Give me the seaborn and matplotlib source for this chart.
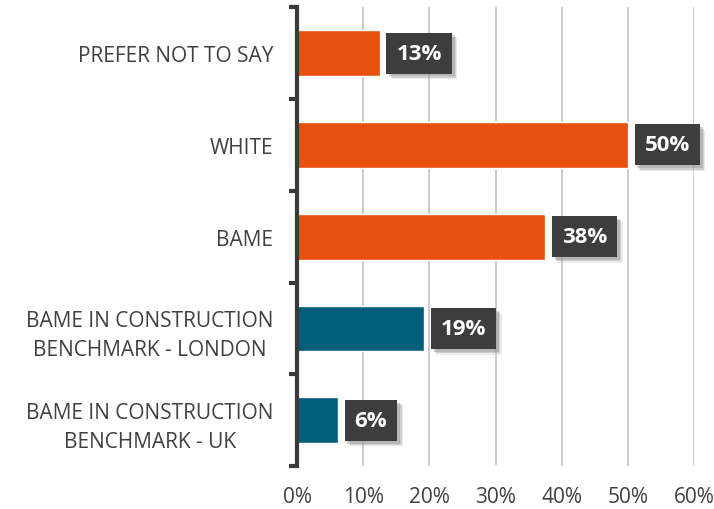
import matplotlib
matplotlib.use("Agg")
import matplotlib.pyplot as plt
import seaborn as sns
import pandas as pd
from matplotlib.ticker import FixedLocator, PercentFormatter
import matplotlib.patheffects as pe

# data
categories = [
    "PREFER NOT TO SAY",
    "WHITE",
    "BAME",
    "BAME IN CONSTRUCTION\nBENCHMARK - LONDON",
    "BAME IN CONSTRUCTION\nBENCHMARK - UK",
]
values = [0.125, 0.50, 0.375, 0.192, 0.062]
labels = ["13%", "50%", "38%", "19%", "6%"]
groups = ["survey", "survey", "survey", "benchmark", "benchmark"]

df = pd.DataFrame({"category": categories, "value": values, "group": groups})

sns.set_theme(style="white")
plt.rcParams["font.family"] = ["Open Sans", "DejaVu Sans"]

fig = plt.figure(figsize=(7.14, 5.1), dpi=100)
ax = fig.add_axes([0.416, 0.084, 0.556, 0.9])

sns.barplot(
    data=df,
    y="category",
    x="value",
    hue="group",
    palette={"survey": "#E8500E", "benchmark": "#005F7A"},
    width=0.5,
    dodge=False,
    legend=False,
    saturation=1,
    ax=ax,
)

ax.set_xlim(0, 0.6)
ax.set_ylim(len(categories) - 0.5, -0.5)
ax.xaxis.set_major_formatter(PercentFormatter(1.0, decimals=0))
ax.set_xticks([0, 0.1, 0.2, 0.3, 0.4, 0.5, 0.6])
ax.grid(axis="x", color="#c8c8c8", linewidth=1.3)
ax.set_axisbelow(True)

for side in ["top", "right", "bottom"]:
    ax.spines[side].set_visible(False)
ax.spines["left"].set_color("#3a3a3a")
ax.spines["left"].set_linewidth(3)

# ticks at the category boundaries only
ax.yaxis.set_minor_locator(FixedLocator([i - 0.5 for i in range(len(categories) + 1)]))
ax.tick_params(axis="y", which="minor", left=True, length=6, width=3, color="#3a3a3a")
ax.tick_params(axis="y", which="major", length=0, pad=17, labelsize=15, labelcolor="#404040")
ax.tick_params(axis="x", length=0, pad=14, labelsize=15, labelcolor="#404040")
for t in ax.get_yticklabels():
    t.set_multialignment("center")
    t.set_linespacing(1.5)
ax.set_xlabel("")
ax.set_ylabel("")

# value labels in dark boxes with a soft shadow
shadow = [
    pe.SimplePatchShadow(offset=(4, -4), shadow_rgbFace="#b0b0b0", alpha=0.25),
    pe.SimplePatchShadow(offset=(3, -3), shadow_rgbFace="#a0a0a0", alpha=0.35),
    pe.SimplePatchShadow(offset=(2, -2), shadow_rgbFace="#909090", alpha=0.4),
    pe.Normal(),
]
for i, (v, lab) in enumerate(zip(values, labels)):
    txt = ax.annotate(
        lab,
        xy=(v, i),
        xytext=(12, 0),
        textcoords="offset points",
        va="center",
        ha="left",
        color="white",
        fontsize=16,
        fontweight="bold",
        bbox=dict(boxstyle="square,pad=0.45", facecolor="#3d3d3d", edgecolor="none"),
    )
    txt.get_bbox_patch().set_path_effects(shadow)

fig.savefig("out.png", dpi=100)
